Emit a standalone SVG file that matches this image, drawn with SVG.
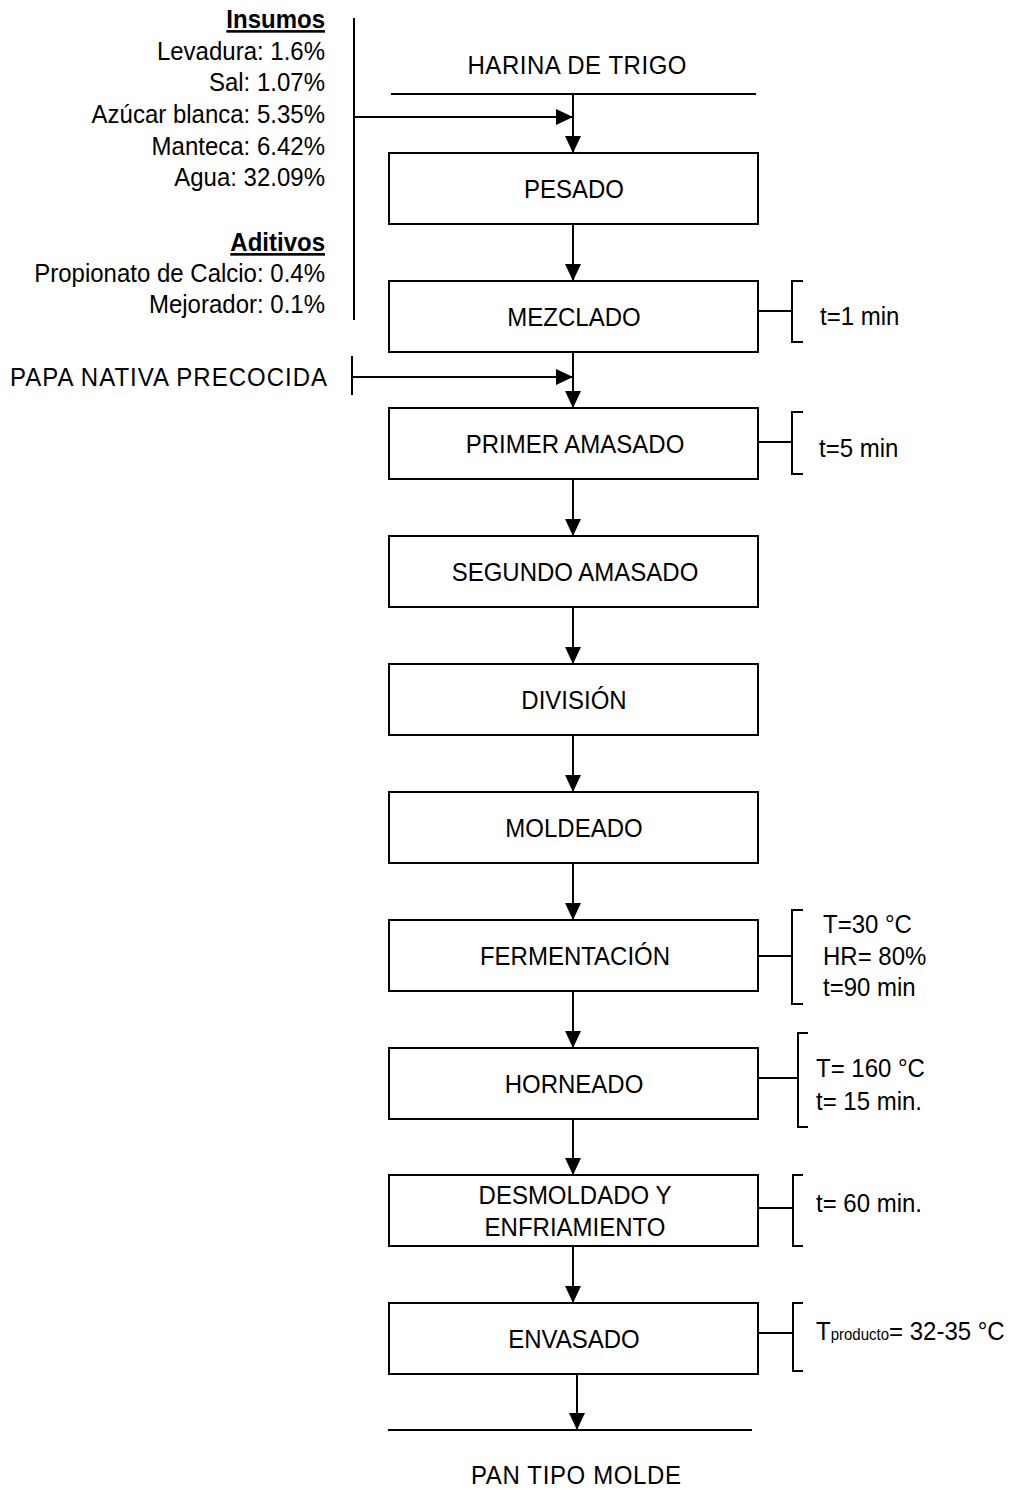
<svg xmlns="http://www.w3.org/2000/svg" width="1015" height="1490" viewBox="0 0 1015 1490">
<style>
text{font-family:"Liberation Sans",Arial,sans-serif;font-size:24px;fill:#000}
.r{text-anchor:end}
.c{text-anchor:middle}
.b{font-weight:bold;text-decoration:underline}
.box{fill:#fff;stroke:#000;stroke-width:2}
.ln{fill:none;stroke:#000;stroke-width:2}
.sub{font-size:15px}
</style>
<defs>
<marker id="ah" markerUnits="userSpaceOnUse" markerWidth="17" markerHeight="16" refX="17" refY="8" orient="auto">
<path d="M0,0 L17,8 L0,16 Z" fill="#000"/>
</marker>
</defs>
<rect width="1015" height="1490" fill="#fff"/>
<g id="inputs">
<text class="r b" x="325" transform="translate(0,28) scale(1,1.08)">Insumos</text>
<text class="r" x="325" transform="translate(0,60) scale(1,1.08)">Levadura: 1.6%</text>
<text class="r" x="325" transform="translate(0,91) scale(1,1.08)">Sal: 1.07%</text>
<text class="r" x="325" transform="translate(0,123) scale(1,1.08)">Azúcar blanca: 5.35%</text>
<text class="r" x="325" transform="translate(0,155) scale(1,1.08)">Manteca: 6.42%</text>
<text class="r" x="325" transform="translate(0,186) scale(1,1.08)">Agua: 32.09%</text>
<text class="r b" x="325" transform="translate(0,251) scale(1,1.08)">Aditivos</text>
<text class="r" x="325" transform="translate(0,282) scale(1,1.08)">Propionato de Calcio: 0.4%</text>
<text class="r" x="325" transform="translate(0,313) scale(1,1.08)">Mejorador: 0.1%</text>
</g>
<g id="harina"><text class="c" x="577" textLength="219" lengthAdjust="spacing" transform="translate(0,74) scale(1,1.08)">HARINA DE TRIGO</text></g>
<g id="papa"><text class="r" x="327" textLength="317" lengthAdjust="spacing" transform="translate(0,386) scale(1,1.08)">PAPA NATIVA PRECOCIDA</text></g>
<g id="pan"><text class="c" x="576" textLength="210" lengthAdjust="spacing" transform="translate(0,1484) scale(1,1.08)">PAN TIPO MOLDE</text></g>
<g id="connectors">
<line class="ln" x1="391" y1="94" x2="756" y2="94"/>
<line class="ln" x1="354" y1="18" x2="354" y2="320"/>
<line class="ln" x1="354" y1="117" x2="573" y2="117" marker-end="url(#ah)"/>
<line class="ln" x1="573" y1="94" x2="573" y2="153" marker-end="url(#ah)"/>
<line class="ln" x1="573" y1="224" x2="573" y2="281" marker-end="url(#ah)"/>
<line class="ln" x1="352" y1="356" x2="352" y2="395"/>
<line class="ln" x1="352" y1="377" x2="573" y2="377" marker-end="url(#ah)"/>
<line class="ln" x1="573" y1="352" x2="573" y2="408" marker-end="url(#ah)"/>
<line class="ln" x1="573" y1="479" x2="573" y2="536" marker-end="url(#ah)"/>
<line class="ln" x1="573" y1="607" x2="573" y2="664" marker-end="url(#ah)"/>
<line class="ln" x1="573" y1="735" x2="573" y2="792" marker-end="url(#ah)"/>
<line class="ln" x1="573" y1="863" x2="573" y2="920" marker-end="url(#ah)"/>
<line class="ln" x1="573" y1="991" x2="573" y2="1048" marker-end="url(#ah)"/>
<line class="ln" x1="573" y1="1119" x2="573" y2="1175" marker-end="url(#ah)"/>
<line class="ln" x1="573" y1="1246" x2="573" y2="1303" marker-end="url(#ah)"/>
<line class="ln" x1="577" y1="1374" x2="577" y2="1430" marker-end="url(#ah)"/>
<line class="ln" x1="388" y1="1430" x2="752" y2="1430"/>
<path class="ln" d="M758,311 H792 M803,281 H792 V342 H803"/>
<path class="ln" d="M758,442 H792 M803,412 H792 V474 H803"/>
<path class="ln" d="M758,956 H792 M803,910 H792 V1004 H803"/>
<path class="ln" d="M758,1078 H798 M808,1033 H798 V1127 H808"/>
<path class="ln" d="M758,1208 H793 M803,1175 H793 V1246 H803"/>
<path class="ln" d="M758,1333 H793 M803,1303 H793 V1371 H803"/>
</g>
<g id="pesado"><rect class="box" x="389" y="153" width="369" height="71"/><text class="c" x="574" transform="translate(0,197.5) scale(1,1.08)">PESADO</text></g>
<g id="mezclado"><rect class="box" x="389" y="281" width="369" height="71"/><text class="c" x="574" transform="translate(0,325.5) scale(1,1.08)">MEZCLADO</text></g>
<g id="primer"><rect class="box" x="389" y="408" width="369" height="71"/><text class="c" x="575" transform="translate(0,452.5) scale(1,1.08)">PRIMER AMASADO</text></g>
<g id="segundo"><rect class="box" x="389" y="536" width="369" height="71"/><text class="c" x="575" transform="translate(0,580.5) scale(1,1.08)">SEGUNDO AMASADO</text></g>
<g id="division"><rect class="box" x="389" y="664" width="369" height="71"/><text class="c" x="574" transform="translate(0,708.5) scale(1,1.08)">DIVISIÓN</text></g>
<g id="moldeado"><rect class="box" x="389" y="792" width="369" height="71"/><text class="c" x="574" transform="translate(0,836.5) scale(1,1.08)">MOLDEADO</text></g>
<g id="fermentacion"><rect class="box" x="389" y="920" width="369" height="71"/><text class="c" x="575" transform="translate(0,964.5) scale(1,1.08)">FERMENTACIÓN</text></g>
<g id="horneado"><rect class="box" x="389" y="1048" width="369" height="71"/><text class="c" x="574" transform="translate(0,1092.5) scale(1,1.08)">HORNEADO</text></g>
<g id="desmoldado"><rect class="box" x="389" y="1175" width="369" height="71"/><text class="c" x="575" transform="translate(0,1204) scale(1,1.08)">DESMOLDADO Y</text><text class="c" x="575" transform="translate(0,1236) scale(1,1.08)">ENFRIAMIENTO</text></g>
<g id="envasado"><rect class="box" x="389" y="1303" width="369" height="71"/><text class="c" x="574" transform="translate(0,1347.5) scale(1,1.08)">ENVASADO</text></g>
<g id="notes">
<text x="820" transform="translate(0,325) scale(1,1.08)">t=1 min</text>
<text x="819" transform="translate(0,457) scale(1,1.08)">t=5 min</text>
<text x="823" transform="translate(0,933) scale(1,1.08)">T=30 °C</text>
<text x="823" transform="translate(0,965) scale(1,1.08)">HR= 80%</text>
<text x="823" transform="translate(0,996) scale(1,1.08)">t=90 min</text>
<text x="816" transform="translate(0,1077) scale(1,1.08)">T= 160 °C</text>
<text x="816" transform="translate(0,1110) scale(1,1.08)">t= 15 min.</text>
<text x="816" transform="translate(0,1212) scale(1,1.08)">t= 60 min.</text>
<text x="816" transform="translate(0,1340) scale(1,1.08)">T<tspan class="sub">producto</tspan>= 32-35 °C</text>
</g>
</svg>
